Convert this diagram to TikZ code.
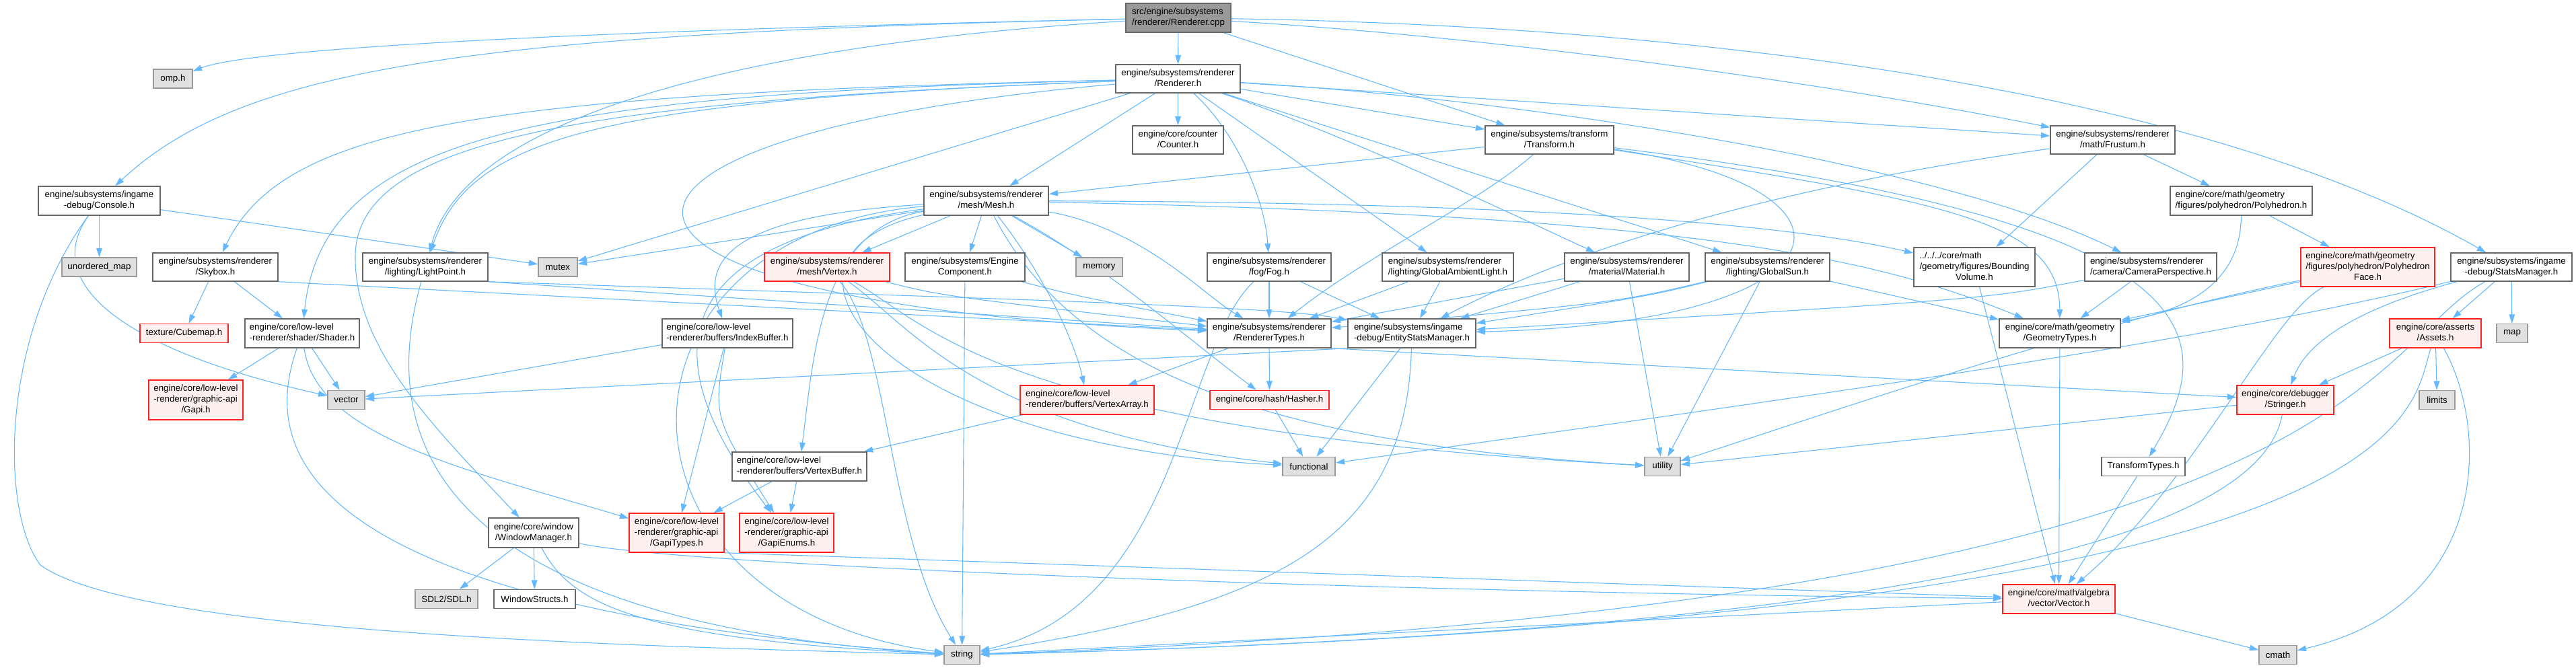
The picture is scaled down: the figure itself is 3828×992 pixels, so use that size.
\documentclass[tikz,border=0pt]{standalone}
\usepackage{fontspec}
\setmainfont{Liberation Sans}
\usetikzlibrary{arrows.meta}
\pgfdeclarelayer{bgl}
\pgfdeclarelayer{edges}
\pgfsetlayers{bgl,edges,main}
\definecolor{eblue}{HTML}{63B8FF}
\definecolor{nbord}{HTML}{666666}
\definecolor{grfill}{HTML}{E0E0E0}
\definecolor{grbord}{HTML}{999999}
\definecolor{rdfill}{HTML}{FFF0F0}
\definecolor{rdbord}{HTML}{FF2020}
\definecolor{rtfill}{HTML}{999999}
\newcommand{\twoln}[2]{\begin{tabular}{@{}l@{}}#1\\\multicolumn{1}{@{}c@{}}{#2}\end{tabular}}
\newcommand{\threeln}[3]{\begin{tabular}{@{}l@{}}#1\\#2\\\multicolumn{1}{@{}c@{}}{#3}\end{tabular}}
\tikzset{
  sz/.style 2 args={minimum width=#1*0.75pt, minimum height=#2*0.75pt},
  nb/.style={rectangle, draw=nbord, fill=white, line width=1.1pt, inner sep=0pt, font=\fontsize{10pt}{12pt}\selectfont},
  gr/.style={nb, draw=grbord, fill=grfill},
  rd/.style={nb, draw=rdbord, fill=rdfill},
  rt/.style={nb, draw=nbord, fill=rtfill},
  e/.style={draw=eblue, line width=0.8pt, -{Triangle[length=10pt,width=6.5pt]}, fill=none}
}
\begin{document}
\begin{tikzpicture}[x=0.75pt,y=-0.75pt]
\begin{pgfonlayer}{bgl}
\fill[white] (0,0) rectangle (3828,992);
\end{pgfonlayer}
\useasboundingbox (0,0) rectangle (3828,992);
% rank 0-3
\node[rt,sz={156}{43}] (cpp) at (1751,26.5) {\twoln{src/engine/subsystems}{/renderer/Renderer.cpp}};
\node[gr,sz={58}{28}] (omp) at (257,117) {omp.h};
\node[nb,sz={185}{42}] (rh) at (1750.5,117) {\twoln{engine/subsystems/renderer}{/Renderer.h}};
\node[nb,sz={135}{42}] (counter) at (1750.5,208) {\twoln{engine/core/counter}{/Counter.h}};
\node[nb,sz={191}{42}] (transform) at (2302.5,208) {\twoln{engine/subsystems/transform}{/Transform.h}};
\node[nb,sz={185}{42}] (frustum) at (3139.5,208) {\twoln{engine/subsystems/renderer}{/math/Frustum.h}};
\node[nb,sz={185}{43}] (mesh) at (1465.5,298.5) {\twoln{engine/subsystems/renderer}{/mesh/Mesh.h}};
\node[nb,sz={181}{43}] (console) at (147.5,298.5) {\twoln{engine/subsystems/ingame}{-debug/Console.h}};
\node[nb,sz={211}{43}] (polyhedron) at (3330.5,298.5) {\twoln{engine/core/math/geometry}{/figures/polyhedron/Polyhedron.h}};
% rank 4
\node[gr,sz={111}{28}] (umap) at (147.5,397) {unordered\_map};
\node[nb,sz={186}{42}] (skybox) at (320,397) {\twoln{engine/subsystems/renderer}{/Skybox.h}};
\node[nb,sz={186}{42}] (lightpoint) at (632,397) {\twoln{engine/subsystems/renderer}{/lighting/LightPoint.h}};
\node[gr,sz={58}{28}] (mutex) at (829,397) {mutex};
\node[rd,sz={186}{42}] (vertex) at (1229,397) {\twoln{engine/subsystems/renderer}{/mesh/Vertex.h}};
\node[nb,sz={178}{42}] (enginecomp) at (1434,397) {\twoln{engine/subsystems/Engine}{Component.h}};
\node[gr,sz={69}{28}] (memory) at (1633.5,397) {memory};
\node[nb,sz={184}{42}] (fog) at (1886,397) {\twoln{engine/subsystems/renderer}{/fog/Fog.h}};
\node[nb,sz={195}{42}] (ambient) at (2151.5,397) {\twoln{engine/subsystems/renderer}{/lighting/GlobalAmbientLight.h}};
\node[nb,sz={185}{42}] (material) at (2417.5,397) {\twoln{engine/subsystems/renderer}{/material/Material.h}};
\node[nb,sz={185}{42}] (globalsun) at (2626.5,397) {\twoln{engine/subsystems/renderer}{/lighting/GlobalSun.h}};
\node[nb,sz={180}{58}] (bounding) at (2934,397) {\threeln{../../../core/math}{/geometry/figures/Bounding}{Volume.h}};
\node[nb,sz={196}{42}] (camera) at (3196,397) {\twoln{engine/subsystems/renderer}{/camera/CameraPerspective.h}};
\node[rd,sz={199}{58}] (polyface) at (3518.5,397) {\threeln{engine/core/math/geometry}{/figures/polyhedron/Polyhedron}{Face.h}};
\node[nb,sz={180}{42}] (statsmgr) at (3732,397) {\twoln{engine/subsystems/ingame}{-debug/StatsManager.h}};
% rank 5
\node[rd,sz={131}{28}] (cubemap) at (273.5,495.5) {texture/Cubemap.h};
\node[nb,sz={170}{43}] (shader) at (449,495.5) {\twoln{engine/core/low-level}{-renderer/shader/Shader.h}};
\node[nb,sz={194}{43}] (indexbuf) at (1081,495.5) {\twoln{engine/core/low-level}{-renderer/buffers/IndexBuffer.h}};
\node[nb,sz={184}{43}] (rtypes) at (1886,495.5) {\twoln{engine/subsystems/renderer}{/RendererTypes.h}};
\node[nb,sz={190}{43}] (entity) at (2098,495.5) {\twoln{engine/subsystems/ingame}{-debug/EntityStatsManager.h}};
\node[nb,sz={180}{43}] (geomtypes) at (3061,495.5) {\twoln{engine/core/math/geometry}{/GeometryTypes.h}};
\node[rd,sz={136}{43}] (assets) at (3619,495.5) {\twoln{engine/core/asserts}{/Assets.h}};
\node[gr,sz={46}{28}] (map) at (3733,495.5) {map};
% rank 6
\node[rd,sz={140}{59}] (gapi) at (291,594.5) {\threeln{engine/core/low-level}{-renderer/graphic-api}{/Gapi.h}};
\node[gr,sz={55}{28}] (vector) at (514.5,594.5) {vector};
\node[rd,sz={199}{43}] (varray) at (1615.5,594.5) {\twoln{engine/core/low-level}{-renderer/buffers/VertexArray.h}};
\node[rd,sz={177}{28}] (hasher) at (1886.5,594.5) {engine/core/hash/Hasher.h};
\node[rd,sz={144}{43}] (stringer) at (3396,594.5) {\twoln{engine/core/debugger}{/Stringer.h}};
\node[gr,sz={53}{28}] (limits) at (3621.5,594.5) {limits};
% rank 7
\node[nb,sz={200}{43}] (vbuf) at (1188,693.5) {\twoln{engine/core/low-level}{-renderer/buffers/VertexBuffer.h}};
\node[gr,sz={78}{28}] (functional) at (1945,693.5) {functional};
\node[gr,sz={53}{28}] (utility) at (2470.5,693.5) {utility};
\node[nb,sz={124}{28}] (ttypes) at (3185,693.5) {TransformTypes.h};
% rank 8
\node[rd,sz={141}{58}] (gapitypes) at (1005.5,792) {\threeln{engine/core/low-level}{-renderer/graphic-api}{/GapiTypes.h}};
\node[rd,sz={140}{58}] (gapienums) at (1169,792) {\threeln{engine/core/low-level}{-renderer/graphic-api}{/GapiEnums.h}};
\node[nb,sz={134}{44}] (winmgr) at (793,792) {\twoln{engine/core/window}{/WindowManager.h}};
% rank 9-10
\node[gr,sz={93}{28}] (sdl) at (663.5,890.5) {SDL2/SDL.h};
\node[nb,sz={121}{28}] (wstructs) at (794.5,890.5) {WindowStructs.h};
\node[rd,sz={167}{43}] (vectorh) at (3059.5,890.5) {\twoln{engine/core/math/algebra}{/vector/Vector.h}};
\node[gr,sz={53}{28}] (string) at (1429.5,973.5) {string};
\node[gr,sz={56}{28}] (cmath) at (3385,973.5) {cmath};

\begin{pgfonlayer}{edges}
% Renderer.cpp
\draw[e] (cpp) .. controls (900,45) and (380,70) .. (omp);
\draw[e] (cpp) .. controls (700,50) and (360,100) .. (console);
\draw[e] (cpp) .. controls (1200,60) and (700,150) .. (lightpoint);
\draw[e] (cpp) -- (rh);
\draw[e] (cpp) -- (transform);
\draw[e] (cpp) .. controls (2300,60) and (2800,140) .. (frustum);
\draw[e] (cpp) .. controls (2600,40) and (3300,150) .. (statsmgr);
% Renderer.h
\draw[e] (rh) .. controls (700,140) and (420,190) .. (skybox);
\draw[e] (rh) .. controls (900,150) and (700,200) .. (lightpoint);
\draw[e] (rh) .. controls (800,140) and (480,200) .. (shader);
\draw[e] (rh) .. controls (900,150) and (530,200) .. (528,380) .. controls (526,520) and (650,640) .. (winmgr);
\draw[e] (rh) -- (mutex);
\draw[e] (rh) -- (counter);
\draw[e] (rh) -- (mesh);
\draw[e] (rh) .. controls (1840,200) and (1880,300) .. (fog);
\draw[e] (rh) -- (ambient);
\draw[e] (rh) .. controls (2000,200) and (2250,320) .. (material);
\draw[e] (rh) -- (globalsun);
\draw[e] (rh) -- (transform);
\draw[e] (rh) -- (frustum);
\draw[e] (rh) .. controls (2300,150) and (2900,250) .. (camera);
\draw[e] (rh) .. controls (800,200) and (760,450) .. (rtypes);
% Mesh.h
\draw[e] (mesh) -- (vertex);
\draw[e] (mesh) -- (enginecomp);
\draw[e] (mesh) -- (memory);
\draw[e] (mesh) -- (mutex);
\draw[e] (mesh) .. controls (1700,340) and (1790,440) .. (rtypes);
\draw[e] (mesh) .. controls (1650,400) and (1760,500) .. (hasher);
\draw[e] (mesh) .. controls (1560,420) and (1600,520) .. (varray);
\draw[e] (mesh) .. controls (1220,340) and (1210,520) .. (vbuf);
\draw[e] (mesh) .. controls (1100,320) and (1040,380) .. (indexbuf);
\draw[e] (mesh) .. controls (1000,360) and (960,520) .. (gapienums);
\draw[e] (mesh) .. controls (880,350) and (880,900) .. (string);
\draw[e] (mesh) .. controls (1100,380) and (1300,660) .. (functional);
\draw[e] (mesh) .. controls (1600,560) and (1900,660) .. (utility);
\draw[e] (mesh) .. controls (2100,300) and (2600,320) .. (bounding);
\draw[e] (mesh) .. controls (2500,320) and (2780,380) .. (geomtypes);
% Vertex.h
\draw[e] (vertex) .. controls (1400,440) .. (rtypes);
\draw[e] (vertex) .. controls (1320,500) and (1320,800) .. (string);
\draw[e] (vertex) .. controls (1380,480) and (1480,640) .. (utility);
\draw[e] (vertex) .. controls (1350,480) and (1450,640) .. (functional);
% EngineComponent
\draw[e] (enginecomp) .. controls (1600,440) .. (rtypes);
\draw[e] (enginecomp) -- (string);
% Fog
\draw[e] (fog) -- (rtypes);
\draw[e] (fog) -- (entity);
\draw[e] (fog) .. controls (1755,520) and (1755,900) .. (string);
% lights / material
\draw[e] (ambient) -- (rtypes);
\draw[e] (ambient) -- (entity);
\draw[e] (material) -- (rtypes);
\draw[e] (material) -- (entity);
\draw[e] (material) -- (utility);
\draw[e] (globalsun) .. controls (2400,450) .. (rtypes);
\draw[e] (globalsun) .. controls (2450,440) .. (entity);
\draw[e] (globalsun) -- (utility);
\draw[e] (globalsun) -- (geomtypes);
% Transform
\draw[e] (transform) -- (mesh);
\draw[e] (transform) .. controls (2200,300) and (2030,380) .. (rtypes);
\draw[e] (transform) .. controls (3300,330) and (3300,500) .. (ttypes);
\draw[e] (transform) .. controls (2900,300) and (3060,330) .. (geomtypes);
\draw[e] (transform) .. controls (2800,280) and (2760,480) .. (entity);
% Frustum / polyhedron
\draw[e] (frustum) -- (bounding);
\draw[e] (frustum) -- (polyhedron);
\draw[e] (frustum) .. controls (2550,290) and (2280,400) .. (entity);
\draw[e] (polyhedron) -- (polyface);
\draw[e] (polyhedron) .. controls (3330,420) and (3250,460) .. (geomtypes);
\draw[e] (polyface) -- (geomtypes);
\draw[e] (polyface) .. controls (3380,460) and (3260,720) .. (vectorh);
\draw[e] (polyface) .. controls (3100,480) and (2700,620) .. (utility);
% Camera
\draw[e] (camera) -- (geomtypes);
\draw[e] (camera) .. controls (2950,445) .. (entity);
% StatsManager
\draw[e] (statsmgr) -- (assets);
\draw[e] (statsmgr) -- (map);
\draw[e] (statsmgr) .. controls (3460,470) and (3420,530) .. (stringer);
\draw[e] (statsmgr) .. controls (3300,500) and (2900,560) .. (functional);
\draw[e] (statsmgr) .. controls (3510,520) and (3510,900) .. (string);
% Assets
\draw[e] (assets) -- (stringer);
\draw[e] (assets) -- (limits);
\draw[e] (assets) .. controls (3700,640) and (3700,900) .. (cmath);
\draw[e] (assets) .. controls (3580,620) and (3600,920) .. (string);
% Stringer
\draw[e] (stringer) -- (utility);
\draw[e] (stringer) .. controls (3370,720) and (3200,930) .. (string);
% geometry / vector
\draw[e] (geomtypes) -- (vectorh);
\draw[e] (bounding) -- (vectorh);
\draw[e] (ttypes) -- (vectorh);
\draw[e] (vectorh) -- (cmath);
\draw[e] (vectorh) -- (string);
% EntityStatsManager
\draw[e] (entity) -- (functional);
\draw[e] (entity) .. controls (2090,800) and (1900,900) .. (string);
\draw[e] (entity.south west) -- (vector);
% RendererTypes
\draw[e] (rtypes) -- (varray);
\draw[e] (rtypes) -- (hasher);
\draw[e] (rtypes.south east) -- (stringer);
\draw[e] (hasher) -- (functional);
\draw[e] (varray) -- (vbuf);
\draw[e] (vbuf) -- (gapitypes);
\draw[e] (vbuf) -- (gapienums);
\draw[e] (indexbuf) -- (vector);
\draw[e] (indexbuf) -- (gapitypes);
\draw[e] (indexbuf) .. controls (1060,620) .. (gapienums);
\draw[e] (gapitypes.south east) -- (vectorh);
\draw[e] (winmgr) .. controls (1000,840) and (2000,880) .. (vectorh);
% Shader / Skybox / LightPoint
\draw[e] (shader) -- (gapi);
\draw[e] (shader) -- (vector);
\draw[e] (shader) .. controls (395,650) and (400,900) .. (string);
\draw[e] (shader) .. controls (470,650) and (700,700) .. (gapitypes);
\draw[e] (skybox) -- (cubemap);
\draw[e] (skybox) -- (shader);
\draw[e] (skybox.south east) -- (rtypes);
\draw[e] (lightpoint.south east) -- (rtypes);
\draw[e] (lightpoint.south east) .. controls (1500,445) and (1900,455) .. (entity);
\draw[e] (lightpoint) .. controls (575,600) and (575,920) .. (string);
% Console
\draw[e] (console) -- (umap);
\draw[e] (console) -- (mutex);
\draw[e] (console) .. controls (60,420) and (180,520) .. (vector);
\draw[e] (console) .. controls (0,500) and (0,760) .. (60,840) .. controls (200,940) and (900,960) .. (string);
% WindowManager
\draw[e] (winmgr) -- (sdl);
\draw[e] (winmgr) -- (wstructs);
\draw[e] (winmgr) .. controls (850,900) and (950,950) .. (string);
\end{pgfonlayer}
\end{tikzpicture}
\end{document}
